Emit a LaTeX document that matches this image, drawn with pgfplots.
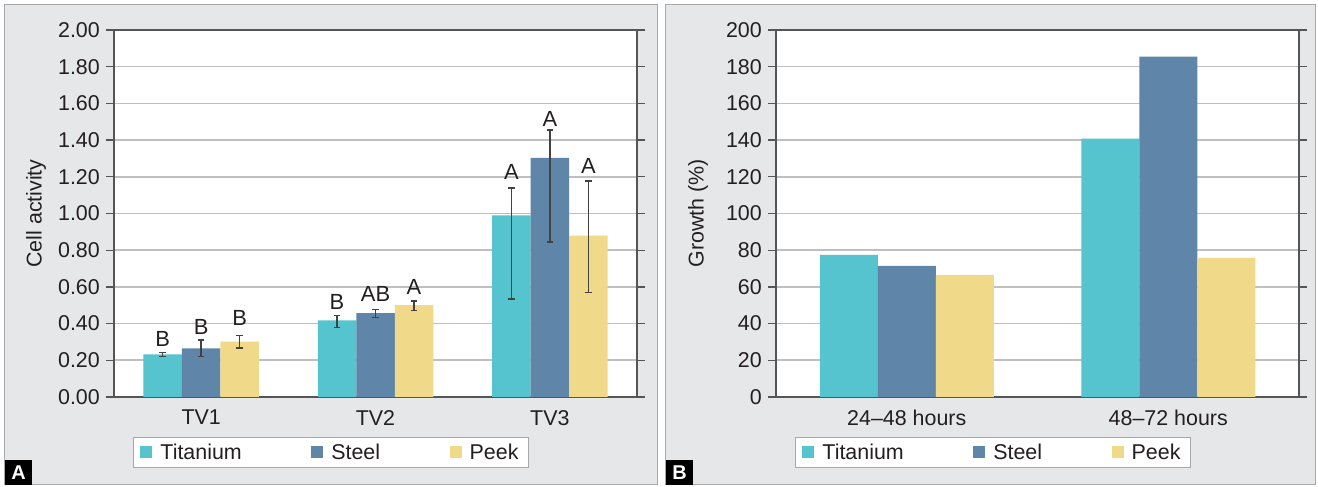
\documentclass[border=0pt]{standalone}
\usepackage{pgfplots}
\pgfplotsset{compat=1.18}
\usepackage{pgfplotstable}
\usepackage{fontspec}
\setmainfont{Liberation Sans}
\definecolor{ti}{HTML}{56C4CF}
\definecolor{st}{HTML}{5F86A8}
\definecolor{pk}{HTML}{F0DA8A}
\definecolor{panel}{HTML}{E6E7E9}
\definecolor{pborder}{HTML}{A8A8A8}
\definecolor{txt}{HTML}{231F20}
\definecolor{gridc}{HTML}{BFBFBF}
\definecolor{axc}{HTML}{555555}

\pgfplotstableread{
x ti tiep tiem tig tilab st step stem stg stlab pk pkep pkem pkg pklab
0 0.232 0.011 0.011 5.7 B 0.265 0.045 0.043 5.0 B 0.302 0.033 0.035 10.0 B
1 0.418 0.025 0.038 5.7 B 0.457 0.020 0.023 7.5 AB 0.500 0.024 0.030 5.7 A
2 0.990 0.150 0.455 8.3 A 1.303 0.152 0.458 3.3 A 0.880 0.297 0.309 7.3 A
}\tableA

\pgfplotstableread{
x ti st pk
0 77.5 71.5 66.6
1 140.8 185.5 75.8
}\tableB

\pgfplotsset{
 panelaxis/.style={
  scale only axis, width=523bp, height=367bp, anchor=south west,
  enlargelimits=false,
  axis background/.style={fill=white},
  axis line style={draw=axc, line width=1.5bp},
  ymajorgrids, grid style={draw=gridc, line width=1.6bp},
  ybar=0pt,
  tick align=outside,
  ytick style={draw=axc, line width=1.3bp},
  major tick length=8bp,
  xtick style={draw=none},
  xtick=data,
  font=\fontsize{21.5}{25}\selectfont,
  every tick label/.append style={text=txt, font=\fontsize{21.5}{25}\selectfont},
  xticklabel style={inner sep=0pt, anchor=north, yshift=-5bp},
  yticklabel style={inner sep=0pt, anchor=east, xshift=-6bp},
  ylabel style={at={(axis description cs:-0.149,0.5)}, anchor=center, text=txt, font=\fontsize{21.5}{25}\selectfont},
  legend columns=3,
  legend cell align=left,
  legend style={at={(0.0363,-0.108)}, anchor=north west, draw=pborder, line width=1bp, fill=white, text=txt,
    font=\fontsize{21.5}{25}\selectfont, inner xsep=7bp, inner ysep=4.5bp,
    nodes={inner xsep=3bp, inner ysep=2bp},
    /tikz/every even column/.append style={column sep=66.5bp}},
  legend image code/.code={\fill[##1] (0bp,-6bp) rectangle (12bp,6bp); \path (17bp,0bp);},
 },
 errstyle/.style={error bars/y dir=both, error bars/y explicit,
    error bars/error bar style={line width=1.4bp, draw=txt!85},
    error bars/error mark options={rotate=90, mark size=3.2bp, line width=1.4bp, draw=txt!85}},
 lettersty/.style={nodes near coords, point meta=explicit symbolic,
    every node near coord/.append style={anchor=south, inner sep=0pt, text=txt,
      font=\fontsize{22}{25}\selectfont, yshift={\ep*183.5bp+\gp*1bp}}},
}

\begin{document}
\begin{tikzpicture}
\fill[white] (0,0) rectangle (1318bp,487bp);
\filldraw[fill=panel, draw=pborder, line width=1bp] (4bp,2bp) rectangle (657bp,482bp);
\filldraw[fill=panel, draw=pborder, line width=1bp] (665bp,2bp) rectangle (1315bp,482bp);

\begin{axis}[panelaxis, at={(114bp,90bp)},
  xmin=-0.5, xmax=2.5, ymin=0, ymax=2,
  bar width=38.5bp,
  xticklabels={TV1,TV2,TV3},
  ytick={0,0.2,0.4,0.6,0.8,1.0,1.2,1.4,1.6,1.8,2.0},
  yticklabel style={/pgf/number format/.cd, fixed, fixed zerofill, precision=2, assume math mode=true},
  ylabel={Cell activity},
]
\addplot[fill=ti, draw=none, lettersty,
  visualization depends on={\thisrow{tiep} \as \ep},
  visualization depends on={\thisrow{tig} \as \gp}, errstyle]
  table[x=x, y=ti, y error plus=tiep, y error minus=tiem, meta=tilab]{\tableA};
\addplot[fill=st, draw=none, lettersty,
  visualization depends on={\thisrow{step} \as \ep},
  visualization depends on={\thisrow{stg} \as \gp}, errstyle]
  table[x=x, y=st, y error plus=step, y error minus=stem, meta=stlab]{\tableA};
\addplot[fill=pk, draw=none, lettersty,
  visualization depends on={\thisrow{pkep} \as \ep},
  visualization depends on={\thisrow{pkg} \as \gp}, errstyle]
  table[x=x, y=pk, y error plus=pkep, y error minus=pkem, meta=pklab]{\tableA};
\legend{Titanium,Steel,Peek}
\end{axis}

\begin{axis}[panelaxis, at={(776bp,90bp)},
  xmin=-0.5, xmax=1.5, ymin=0, ymax=200,
  bar width=58bp,
  xticklabels={24–48 hours,48–72 hours},
  ytick={0,20,...,200},
  yticklabel style={/pgf/number format/assume math mode=true},
  ylabel={Growth (\%)},
]
\addplot[fill=ti, draw=none] table[x=x, y=ti]{\tableB};
\addplot[fill=st, draw=none] table[x=x, y=st]{\tableB};
\addplot[fill=pk, draw=none] table[x=x, y=pk]{\tableB};
\legend{Titanium,Steel,Peek}
\end{axis}

\fill[black] (5bp,2bp) rectangle (32bp,27bp);
\node[text=white, font=\bfseries\fontsize{20}{20}\selectfont] at (18.5bp,14.5bp) {A};
\fill[black] (666bp,2bp) rectangle (693bp,27bp);
\node[text=white, font=\bfseries\fontsize{20}{20}\selectfont] at (679.5bp,14.5bp) {B};
\end{tikzpicture}
\end{document}
